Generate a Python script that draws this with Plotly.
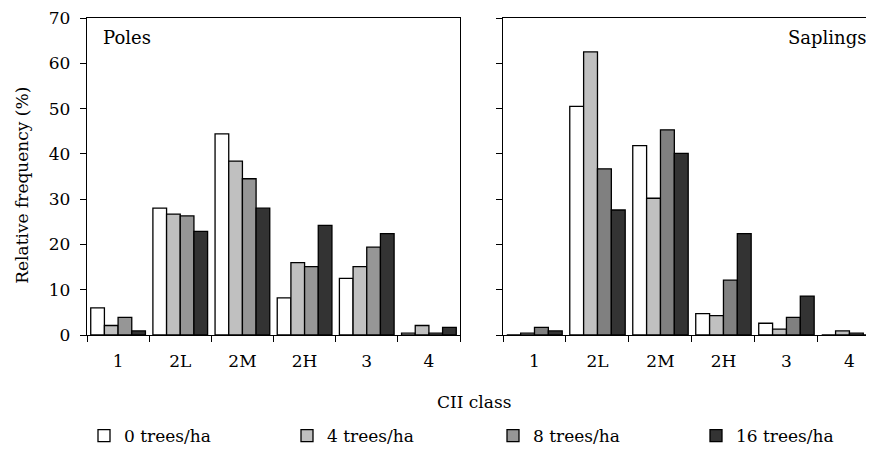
import plotly.graph_objects as go

categories = ["1", "2L", "2M", "2H", "3", "4"]
series_names = ["0 trees/ha", "4 trees/ha", "8 trees/ha", "16 trees/ha"]

poles_0 = [6.0, 28.0, 44.4, 8.2, 12.5, 0.4]
poles_4 = [2.1, 26.7, 38.4, 16.0, 15.1, 2.1]
poles_8 = [3.9, 26.3, 34.5, 15.1, 19.4, 0.4]
poles_16 = [0.9, 22.9, 28.0, 24.2, 22.4, 1.7]

saplings_0 = [0.0, 50.5, 41.8, 4.7, 2.6, 0.0]
saplings_4 = [0.4, 62.5, 30.2, 4.3, 1.3, 0.9]
saplings_8 = [1.7, 36.7, 45.3, 12.1, 3.9, 0.4]
saplings_16 = [0.9, 27.6, 40.1, 22.4, 8.6, 0.0]

y_ticks = [0, 10, 20, 30, 40, 50, 60, 70]

left_colors = ["#ffffff", "#c0c0c0", "#969696", "#333333"]
right_colors = ["#ffffff", "#c0c0c0", "#808080", "#333333"]

FONT = "DejaVu Serif"
# page has an 8px body margin: work in screen coords, convert to figure coords
OFF = 8
SCR_W, SCR_H = 874, 454
W, H = SCR_W - OFF, SCR_H - OFF


def fx(x):
    return x - OFF


L_AX, R_AX1, L_AX2 = fx(87), fx(460), fx(503)
TOP, BOT = fx(16), fx(341)
plot_h = BOT - TOP


def py(y_screen):
    return (BOT - fx(y_screen)) / plot_h


fig = go.Figure()
poles = [poles_0, poles_4, poles_8, poles_16]
saplings = [saplings_0, saplings_4, saplings_8, saplings_16]
legends = ["legend", "legend2", "legend3", "legend4"]
for i, name in enumerate(series_names):
    fig.add_trace(go.Bar(x=categories, y=poles[i], name=name, xaxis="x", yaxis="y",
                         marker=dict(color=left_colors[i], line=dict(color="black", width=1.3)),
                         legend=legends[i], showlegend=True))
for i, name in enumerate(series_names):
    fig.add_trace(go.Bar(x=categories, y=saplings[i], name=name, xaxis="x2", yaxis="y2",
                         marker=dict(color=right_colors[i], line=dict(color="black", width=1.3)),
                         showlegend=False))

xcommon = dict(type="category", showgrid=False, showline=True, linecolor="black", linewidth=1.3,
               ticks="outside", ticklen=6, tickwidth=1.3, tickcolor="black", tickson="boundaries",
               tickfont=dict(family=FONT, size=17, color="black"), ticklabelstandoff=10,
               zeroline=False)
ycommon = dict(range=[0, 70], tickvals=y_ticks, showgrid=False, showline=True, linecolor="black",
               linewidth=1.3, ticks="outside", ticklen=6, tickwidth=1.3, tickcolor="black",
               tickfont=dict(family=FONT, size=17, color="black"), zeroline=False,
               ticklabeloverflow="allow", domain=[0, 1])

legend_x = [104, 307, 513, 716]
layout_legends = {}
for i, lg in enumerate(legends):
    layout_legends[lg] = dict(x=fx(legend_x[i] - 20) / W, y=py(445), xanchor="left", yanchor="middle",
                              orientation="h", bgcolor="rgba(0,0,0,0)", borderwidth=0,
                              font=dict(family=FONT, size=17, color="black"),
                              itemclick=False, itemdoubleclick=False)

fig.update_layout(
    width=W, height=H,
    margin=dict(l=0, r=0, t=TOP, b=H - BOT, pad=0),
    paper_bgcolor="white", plot_bgcolor="white",
    barmode="group", bargap=0.12, bargroupgap=0.0,
    xaxis=dict(xcommon, domain=[L_AX / W, R_AX1 / W], anchor="y", mirror=True, range=[-0.5, 5.5]),
    xaxis2=dict(xcommon, domain=[L_AX2 / W, 1.0], anchor="y2", mirror=True, range=[-0.5, 5.39]),
    yaxis=dict(ycommon, anchor="x", mirror=True, showticklabels=True, ticklabelstandoff=6),
    yaxis2=dict(ycommon, anchor="x2", mirror=False, showticklabels=False),
    **layout_legends,
    annotations=[
        dict(text="Relative frequency (%)", textangle=-90, xref="paper", yref="paper",
             x=fx(22) / W, y=py(188), xanchor="center", yanchor="middle", showarrow=False,
             font=dict(family=FONT, size=17, color="black")),
        dict(text="CII class", xref="paper", yref="paper", x=fx(474) / W, y=py(410),
             xanchor="center", yanchor="middle", showarrow=False,
             font=dict(family=FONT, size=17, color="black")),
        dict(text="Poles", xref="paper", yref="paper", x=fx(101) / W, y=py(36),
             xanchor="left", yanchor="middle", showarrow=False,
             font=dict(family=FONT, size=18, color="black")),
        dict(text="Saplings", xref="paper", yref="paper", x=fx(868) / W, y=py(36),
             xanchor="right", yanchor="middle", showarrow=False,
             font=dict(family=FONT, size=18, color="black")),
    ],
)

fig.write_html("out.html")
